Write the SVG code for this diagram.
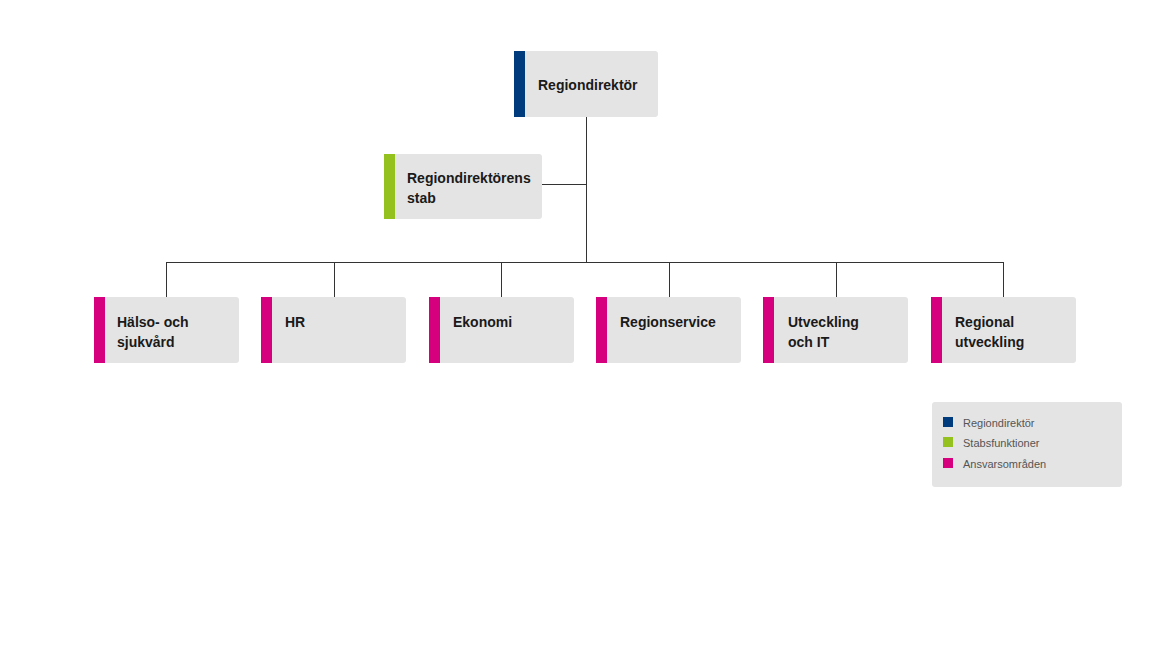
<svg xmlns="http://www.w3.org/2000/svg" width="1170" height="658" viewBox="0 0 1170 658">
<style>
.box{fill:#e4e4e4}
.t{font-family:"Liberation Sans",Arial,sans-serif;font-weight:bold;font-size:14px;fill:#1a1a1a}
.lt{font-family:"Liberation Sans",Arial,sans-serif;font-size:11px;fill:#555}
.c{stroke:#333;stroke-width:1;fill:none}
.navy{fill:#003b7e}
.green{fill:#95c11f}
.mag{fill:#d6007e}
</style>
<rect width="1170" height="658" fill="#fff"/>
<g id="connectors">
<path class="c" d="M586.5 117V262.5M542 184.5H586.5M166.5 262.5H1003.5M166.5 262V297M334.5 262V297M501.5 262V297M669.5 262V297M836.5 262V297M1003.5 262V297"/>
</g>
<g id="regiondirektor">
<rect class="box" x="514" y="51" width="144" height="66" rx="3"/>
<rect class="navy" x="514" y="51" width="11" height="66"/>
<text class="t" x="538" y="90">Regiondirektör</text>
</g>
<g id="stab">
<rect class="box" x="384" y="154" width="158" height="65" rx="3"/>
<rect class="green" x="384" y="154" width="11" height="65"/>
<text class="t" x="407" y="183">Regiondirektörens</text>
<text class="t" x="407" y="203">stab</text>
</g>
<g id="halso">
<rect class="box" x="94" y="297" width="145" height="66" rx="3"/>
<rect class="mag" x="94" y="297" width="11" height="66"/>
<text class="t" x="117" y="327">Hälso- och</text>
<text class="t" x="117" y="347">sjukvård</text>
</g>
<g id="hr">
<rect class="box" x="261" y="297" width="145" height="66" rx="3"/>
<rect class="mag" x="261" y="297" width="11" height="66"/>
<text class="t" x="285" y="327">HR</text>
</g>
<g id="ekonomi">
<rect class="box" x="429" y="297" width="145" height="66" rx="3"/>
<rect class="mag" x="429" y="297" width="11" height="66"/>
<text class="t" x="453" y="327">Ekonomi</text>
</g>
<g id="regionservice">
<rect class="box" x="596" y="297" width="145" height="66" rx="3"/>
<rect class="mag" x="596" y="297" width="11" height="66"/>
<text class="t" x="620" y="327">Regionservice</text>
</g>
<g id="utveckling-it">
<rect class="box" x="763" y="297" width="145" height="66" rx="3"/>
<rect class="mag" x="763" y="297" width="11" height="66"/>
<text class="t" x="788" y="327">Utveckling</text>
<text class="t" x="788" y="347">och IT</text>
</g>
<g id="regional-utveckling">
<rect class="box" x="931" y="297" width="145" height="66" rx="3"/>
<rect class="mag" x="931" y="297" width="11" height="66"/>
<text class="t" x="955" y="327">Regional</text>
<text class="t" x="955" y="347">utveckling</text>
</g>
<g id="legend">
<rect class="box" x="932" y="402" width="190" height="85" rx="3"/>
<rect class="navy" x="943" y="417" width="10" height="10"/>
<text class="lt" x="963" y="427">Regiondirektör</text>
<rect class="green" x="943" y="437" width="10" height="10"/>
<text class="lt" x="963" y="447">Stabsfunktioner</text>
<rect class="mag" x="943" y="458" width="10" height="10"/>
<text class="lt" x="963" y="468">Ansvarsområden</text>
</g>
</svg>
